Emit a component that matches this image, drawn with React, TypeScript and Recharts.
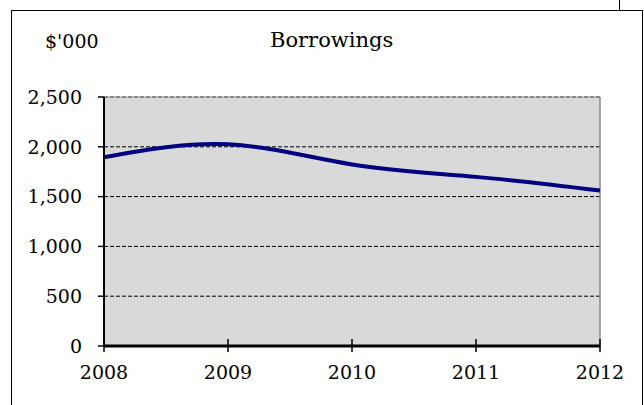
import React from 'react'
import { LineChart, Line, XAxis, YAxis, CartesianGrid, ReferenceLine } from 'recharts'

const years = [2008, 2009, 2010, 2011, 2012]
const borrowings = [1895, 2025, 1823, 1698, 1561]
const yTicks = [0, 500, 1000, 1500, 2000, 2500]

const data = years.map((year, i) => ({ year, value: borrowings[i] }))

const FONT = '"DejaVu Serif"'

const XTick = (props: any) => {
  const { x, y, payload } = props
  return (
    <g>
      <line x1={x} x2={x} y1={y - 7} y2={y + 6} stroke="#000" strokeWidth={1.5} />
      <text x={x} y={y + 33} textAnchor="middle" style={{ fontFamily: FONT }} fontSize={19} fill="#000">
        {payload.value}
      </text>
    </g>
  )
}

export default function App() {
  return (
    <div style={{ position: 'absolute', left: 0, top: 0, width: 644, height: 405, background: '#fff', overflow: 'hidden', fontFamily: FONT }}>
      {/* outer frame */}
      <div style={{ position: 'absolute', left: 11, top: 10, width: 630, height: 420, border: '1.5px solid #000' }} />
      <div style={{ position: 'absolute', left: 619, top: 0, width: 0, height: 11, borderLeft: '1.5px solid #000' }} />

      <div style={{ position: 'absolute', left: 45, top: 28, fontSize: 19, lineHeight: '26px' }}>$'000</div>
      <div style={{ position: 'absolute', left: 270, top: 27, fontSize: 21, lineHeight: '26px' }}>
        Borrowings
      </div>

      <div style={{ position: 'absolute', left: 0, top: 0 }}>
        <LineChart width={644} height={405} data={data} margin={{ top: 97, right: 44, left: 24, bottom: 19 }}>
          <CartesianGrid
            vertical={false}
            stroke="#000"
            strokeDasharray="4 2"
            fill="#d9d9d9"
            fillOpacity={1}
          />
          <XAxis
            dataKey="year"
            type="number"
            domain={[2008, 2012]}
            ticks={years}
            height={40}
            tickSize={0}
            tickMargin={0}
            tickLine={false}
            axisLine={{ stroke: '#000', strokeWidth: 3 }}
            tick={<XTick />}
          />
          <YAxis
            domain={[0, 2500]}
            ticks={yTicks}
            width={80}
            tickSize={6}
            tickMargin={16}
            tickLine={{ stroke: '#000', strokeWidth: 1.5 }}
            axisLine={{ stroke: '#000', strokeWidth: 2 }}
            tickFormatter={(v: number) => v.toLocaleString('en-US')}
            tick={{ style: { fontFamily: FONT }, fontSize: 19, fill: '#000' }}
          />
          <ReferenceLine x={2012} stroke="#888" strokeWidth={1.5} />
          <ReferenceLine y={2500} stroke="#999" strokeWidth={1} />
          <Line
            type="natural"
            dataKey="value"
            stroke="#000080"
            strokeWidth={4}
            dot={false}
            isAnimationActive={false}
          />
        </LineChart>
      </div>
    </div>
  )
}
